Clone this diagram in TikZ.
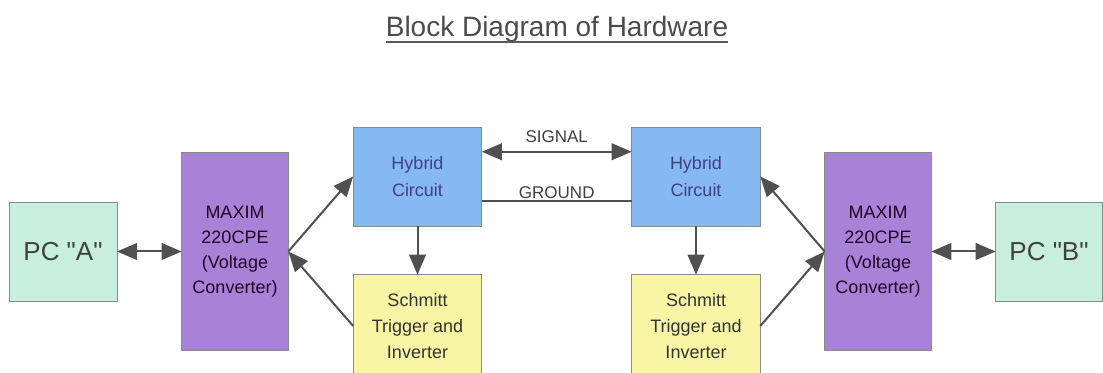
\documentclass[tikz,border=0pt]{standalone}
\usepackage{fontspec}
\setmainfont{Liberation Sans}
\usetikzlibrary{arrows.meta,calc}

\definecolor{pcfill}{HTML}{C8EEDF}
\definecolor{maxfill}{HTML}{A882D6}
\definecolor{hybfill}{HTML}{86B8F2}
\definecolor{schfill}{HTML}{F8F6A4}
\definecolor{edge}{HTML}{8A8A8A}
\definecolor{wire}{HTML}{505050}

\begin{document}
\begin{tikzpicture}[x=0.75pt, y=-0.75pt,
	block/.style={rectangle, draw=edge, line width=0.6pt, inner sep=0pt, outer sep=0pt, align=center},
	pcbox/.style={block, fill=pcfill, text=black!75, minimum height=74.25pt, font=\fontsize{19.5}{22}\selectfont},
	maxbox/.style={block, fill=maxfill, text=black!70!violet, minimum width=80pt, minimum height=148pt, font=\fontsize{13.5}{18.75}\selectfont},
	hybbox/.style={block, fill=hybfill, text=blue!35!black!75, minimum width=96.5pt, minimum height=74.25pt, font=\fontsize{13.5}{20.25}\selectfont},
	schbox/.style={block, fill=schfill, text=black!80, minimum width=96.5pt, minimum height=77pt, font=\fontsize{13.5}{19.5}\selectfont},
	link/.style={draw=wire, line width=1.5pt, -{Triangle[length=15pt, width=12.5pt]}},
	both/.style={link, {Triangle[length=15pt, width=12.5pt]}-{Triangle[length=15pt, width=12.5pt]}},
	tag/.style={font=\fontsize{12.75}{14}\selectfont, text=black!75, inner sep=1pt}]
	\useasboundingbox (0,0) rectangle (1103,373);

	% title
	\node[font=\fontsize{21}{24}\selectfont, text=black!70, anchor=base, inner sep=0pt] (title) at (557,37) {Block Diagram of Hardware};
	\draw[black!65, line width=1.4pt] ([yshift=-4pt]title.base west) -- ([yshift=-4pt]title.base east);

	% blocks
	\node[pcbox, minimum width=81pt] (pcA) at (63,251.5) {PC \textquotedbl A\textquotedbl};
	\node[maxbox] (maxA) at (235,251.5) {MAXIM\\220CPE\\(Voltage\\Converter)};
	\node[hybbox] (hybA) at (417.5,176.5) {Hybrid\\Circuit};
	\node[schbox] (schA) at (417.5,326) {Schmitt\\Trigger and\\Inverter};
	\node[hybbox] (hybB) at (696,176.5) {Hybrid\\Circuit};
	\node[schbox] (schB) at (696,326) {Schmitt\\Trigger and\\Inverter};
	\node[maxbox] (maxB) at (878,251.5) {MAXIM\\220CPE\\(Voltage\\Converter)};
	\node[pcbox, minimum width=80pt] (pcB) at (1049,251.5) {PC \textquotedbl B\textquotedbl};

	% connections
	\draw[both] (pcA.east) -- (maxA.west);
	\draw[both] (maxB.east) -- (pcB.west);
	\draw[link] (maxA.east) -- (hybA.west);
	\draw[link] (schA.west) -- (maxA.east);
	\draw[link] (maxB.west) -- (hybB.east);
	\draw[link] (schB.east) -- (maxB.west);
	\draw[link] (hybA.south) -- (schA.north);
	\draw[link] (hybB.south) -- (schB.north);
	\draw[both] ($(hybA.north east)!0.25!(hybA.south east)$) -- node[tag, above=5pt] (sig) {SIGNAL} ($(hybB.north west)!0.25!(hybB.south west)$);
	\draw[draw=wire, line width=1.5pt] ($(hybA.north east)!0.75!(hybA.south east)$) -- node[tag, above=0.5pt] (gnd) {GROUND} ($(hybB.north west)!0.75!(hybB.south west)$);
\end{tikzpicture}
\end{document}
